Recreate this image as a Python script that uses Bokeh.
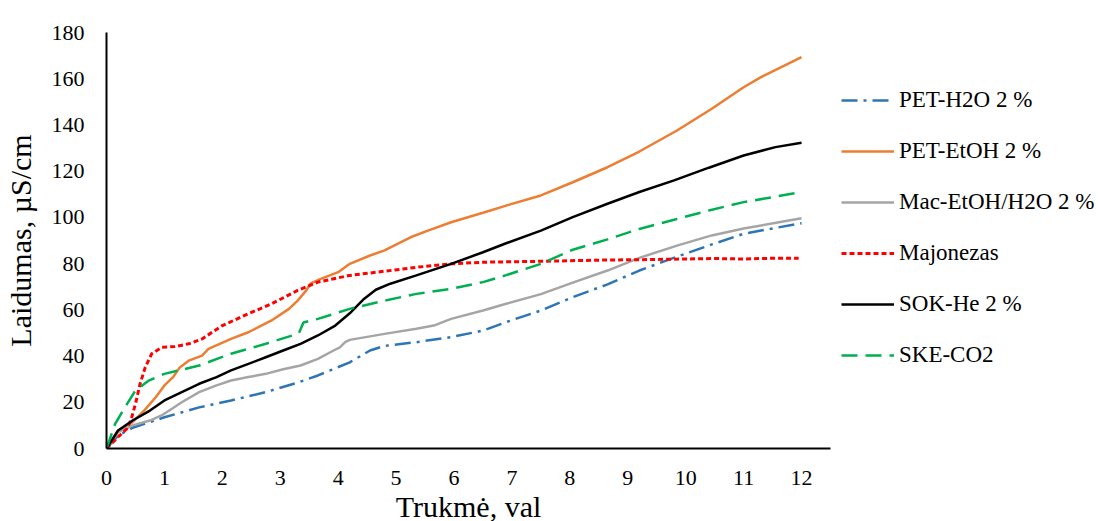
from bokeh.plotting import figure
from bokeh.models import Legend, LegendItem, Range1d, FixedTicker
from bokeh.embed import file_html
from bokeh.resources import INLINE

# ---- data ----
pet_h2o_x = [0, 0.2, 0.45, 1.0, 1.6, 2.15, 2.75, 3.3, 3.65, 4.2, 4.55, 4.8, 5.35, 5.95, 6.5, 6.9, 7.5, 8.05, 8.65, 9.2, 9.85, 10.45, 11.0, 12.0]
pet_h2o_y = [0, 5.5, 9, 13.5, 17.8, 20.8, 24.4, 28.5, 31.6, 37.3, 42.4, 44.4, 46, 48.2, 51, 54.7, 59.7, 65.5, 71, 77, 83, 88.3, 92.9, 97.5]

pet_etoh_x = [0, 0.2, 0.45, 0.65, 0.85, 1.0, 1.15, 1.27, 1.42, 1.65, 1.76, 2.15, 2.45, 2.85, 3.15, 3.3, 3.45, 3.52, 3.7, 4.0, 4.2, 4.55, 4.8, 5.25, 5.55, 5.95, 6.5, 6.9, 7.5, 8.05, 8.65, 9.2, 9.85, 10.45, 11.0, 11.3, 12.0]
pet_etoh_y = [0, 7.8, 11.4, 16.4, 22.2, 27.3, 30.9, 35.2, 38, 40.2, 43.1, 47.4, 50.3, 55.4, 60.4, 64, 68.4, 71.3, 73.4, 76.3, 79.9, 83.5, 85.7, 91.4, 94.3, 97.9, 102, 105.1, 109.5, 115.2, 121.7, 128.5, 137.6, 147, 156.3, 160.7, 169.3]

mac_x = [0, 0.2, 0.45, 0.75, 0.95, 1.13, 1.3, 1.6, 1.9, 2.15, 2.45, 2.75, 3.05, 3.35, 3.65, 3.92, 4.03, 4.12, 4.2, 4.8, 5.35, 5.65, 5.95, 6.5, 6.9, 7.5, 8.05, 8.65, 9.2, 9.85, 10.45, 11.0, 12.0]
mac_y = [0, 7.1, 10, 12.1, 14.3, 17.2, 20, 24.4, 27.3, 29.4, 30.9, 32.3, 34.3, 35.9, 38.8, 42.4, 43.8, 46, 47, 49.6, 51.8, 53.2, 56.1, 59.7, 62.6, 66.8, 71.8, 77, 82.5, 87.8, 92.2, 95.2, 99.6]

majo_x = [0, 0.2, 0.35, 0.42, 0.5, 0.58, 0.67, 0.78, 0.96, 1.18, 1.42, 1.65, 2.0, 2.45, 2.85, 3.3, 3.65, 4.2, 4.8, 5.35, 5.95, 6.5, 7.5, 8.5, 9.5, 10.5, 11.0, 11.5, 11.95]
majo_y = [0, 5, 8.5, 12.1, 19.3, 28, 35.2, 41, 43.8, 44.1, 45.3, 47.4, 53.2, 58.3, 62.6, 68.4, 72, 74.9, 76.7, 78.4, 79.9, 80.6, 81, 81.5, 81.8, 82.2, 82.0, 82.3, 82.3]

sok_x = [0, 0.2, 0.45, 0.75, 1.0, 1.3, 1.6, 1.9, 2.15, 2.45, 2.75, 3.05, 3.35, 3.65, 3.95, 4.2, 4.45, 4.65, 4.9, 5.35, 5.95, 6.5, 6.9, 7.5, 8.05, 8.65, 9.2, 9.8, 10.4, 11.0, 11.55, 12.0]
sok_y = [0, 7.8, 12.1, 16.4, 20.8, 24.4, 28, 30.9, 33.8, 36.6, 39.5, 42.4, 45.3, 48.9, 53.2, 58.5, 64.8, 68.7, 71.3, 74.9, 79.9, 84.9, 88.8, 94.3, 100.1, 105.9, 111, 116, 121.5, 126.8, 130.4, 132.3]

ske_x = [0, 0.15, 0.32, 0.5, 0.73, 1.0, 1.6, 2.15, 2.75, 3.32, 3.4, 3.65, 4.2, 4.8, 5.35, 5.95, 6.5, 6.9, 7.5, 8.05, 8.65, 9.2, 9.8, 10.4, 11.0, 11.9]
ske_y = [0, 10.7, 17.9, 25.1, 29.4, 32.3, 35.9, 41, 45.3, 49.8, 54.5, 56.1, 60.4, 64, 66.9, 69.1, 72, 75, 79.9, 86, 90.5, 95, 99, 103, 106.6, 110.5]

labels = ["PET-H2O 2 %", "PET-EtOH 2 %", "Mac-EtOH/H2O 2 %", "Majonezas", "SOK-He 2 %", "SKE-CO2"]
x_ticks = list(range(0, 13))
y_ticks = list(range(0, 181, 20))

FONT = "Liberation Serif"

p = figure(frame_width=724, frame_height=416,
           min_border_left=103, min_border_right=271, min_border_top=32, min_border_bottom=73,
           output_backend="svg", toolbar_location=None,
           x_range=Range1d(0, 12.5), y_range=Range1d(0, 180))
p.outline_line_color = None
p.xgrid.visible = False
p.ygrid.visible = False
p.background_fill_color = "white"
p.border_fill_color = "white"

for ax in (p.xaxis[0], p.yaxis[0]):
    ax.axis_line_color = "black"
    ax.axis_line_width = 2
    ax.major_tick_line_color = None
    ax.minor_tick_line_color = None
    ax.major_label_text_font = FONT
    ax.major_label_text_font_size = "22px"
    ax.major_label_text_color = "black"
    ax.axis_label_text_font = FONT
    ax.axis_label_text_font_size = "30px"
    ax.axis_label_text_font_style = "normal"
    ax.axis_label_text_color = "black"
p.xaxis[0].ticker = FixedTicker(ticks=x_ticks)
p.yaxis[0].ticker = FixedTicker(ticks=y_ticks)
p.xaxis[0].major_label_standoff = 16
p.yaxis[0].major_label_standoff = 16
p.xaxis[0].axis_label = "Trukmė, val"
p.xaxis[0].axis_label_standoff = 2
p.yaxis[0].axis_label = "Laidumas, µS/cm"
p.yaxis[0].axis_label_standoff = 12

series = [
    (pet_h2o_x, pet_h2o_y, "#2E75B6", "16 6 3 6", 2.5),
    (pet_etoh_x, pet_etoh_y, "#ED7D31", "solid", 2.5),
    (mac_x, mac_y, "#A5A5A5", "solid", 2.5),
    (majo_x, majo_y, "#FF0000", "5 3", 3),
    (sok_x, sok_y, "#000000", "solid", 2.5),
    (ske_x, ske_y, "#00B050", "16 8", 2.5),
]
items = []
for (xs, ys, col, dash, w), lab in zip(series, labels):
    r = p.line(xs, ys, line_color=col, line_width=w, line_dash=dash)
    items.append(LegendItem(label=lab, renderers=[r]))

legend = Legend(items=items, location=(11, 80), orientation="vertical",
                border_line_color=None, background_fill_alpha=0,
                padding=0, margin=0, spacing=25, glyph_height=20, label_height=20,
                glyph_width=53, label_standoff=5,
                label_text_font=FONT, label_text_font_size="23px", label_text_color="black")
p.add_layout(legend, "right")

open("out.html", "w").write(file_html(p, INLINE))
